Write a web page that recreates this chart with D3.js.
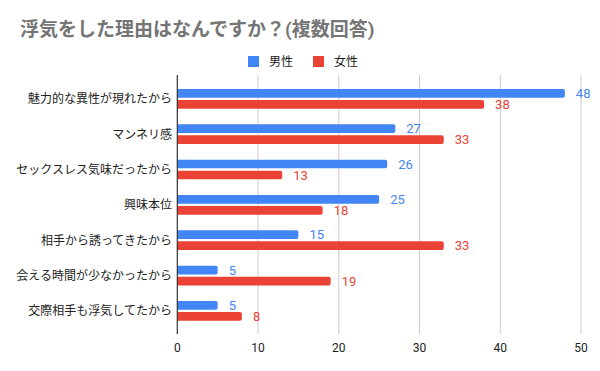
<!DOCTYPE html>
<html>
<head>
<meta charset="utf-8">
<script src="https://cdn.jsdelivr.net/npm/d3@7"></script>
<style>
  body { margin: 0; background: #fff; }
  svg { font-family: Roboto, "Noto Sans CJK JP", sans-serif; }
</style>
</head>
<body>
<svg width="600" height="371"></svg>
<script>
var categories = ["魅力的な異性が現れたから", "マンネリ感", "セックスレス気味だったから", "興味本位",
    "相手から誘ってきたから", "会える時間が少なかったから", "交際相手も浮気してたから"];
var male = [48, 27, 26, 25, 15, 5, 5];
var female = [38, 33, 13, 18, 33, 19, 8];
var seriesNames = ["男性", "女性"];
var ticks = [0, 10, 20, 30, 40, 50];
var colors = ["#4285f4", "#ea4335"];

var svg = d3.select("svg");

// scales
var xscale = d3.scaleLinear().domain([0, 50]).range([177.3, 581]);
var yscale = d3.scaleBand().domain(categories).range([81.3, 328.7]);
var barH = 8.7;

// title
svg.append("text")
    .attr("x", 20)
    .attr("y", 36)
    .attr("font-size", 19)
    .attr("font-weight", "bold")
    .attr("fill", "#757575")
    .text("浮気をした理由はなんですか？(複数回答)");

// legend
var legend = svg.append("g").selectAll("g")
    .data(seriesNames)
    .enter().append("g")
    .attr("transform", function(d, i) { return "translate(" + (248 + i * 65) + ",56)"; });
legend.append("rect")
    .attr("width", 11).attr("height", 11)
    .attr("fill", function(d, i) { return colors[i]; });
legend.append("text")
    .attr("x", 21).attr("y", 10)
    .attr("font-size", 12)
    .attr("fill", "#222")
    .text(function(d) { return d; });

// gridlines
svg.append("g").selectAll("line")
    .data(ticks.slice(1))
    .enter().append("line")
    .attr("x1", function(d) { return xscale(d); })
    .attr("x2", function(d) { return xscale(d); })
    .attr("y1", 75).attr("y2", 334)
    .attr("stroke", "#cccccc");

// x tick labels
svg.append("g").selectAll("text")
    .data(ticks)
    .enter().append("text")
    .attr("x", function(d) { return xscale(d); })
    .attr("y", 352)
    .attr("text-anchor", "middle")
    .attr("font-size", 12)
    .attr("fill", "#222")
    .text(function(d) { return d; });

// category labels
svg.append("g").selectAll("text")
    .data(categories)
    .enter().append("text")
    .attr("x", 172)
    .attr("y", function(d) { return yscale(d) + yscale.bandwidth() / 2; })
    .attr("dy", "0.35em")
    .attr("text-anchor", "end")
    .attr("font-size", 12)
    .attr("fill", "#222")
    .text(function(d) { return d; });

// bars
var series = [male, female];
var offsets = [-10, 1];
series.forEach(function(vals, s) {
    var g = svg.append("g");
    g.selectAll("path")
        .data(vals)
        .enter().append("path")
        .attr("fill", colors[s])
        .attr("d", function(d, i) {
            var x0 = xscale(0), x1 = xscale(d);
            var y0 = yscale(categories[i]) + yscale.bandwidth() / 2 + offsets[s];
            var r = 2;
            return "M" + x0 + "," + y0 + "H" + (x1 - r) +
                "Q" + x1 + "," + y0 + " " + x1 + "," + (y0 + r) +
                "V" + (y0 + barH - r) +
                "Q" + x1 + "," + (y0 + barH) + " " + (x1 - r) + "," + (y0 + barH) +
                "H" + x0 + "Z";
        });
    g.selectAll("text")
        .data(vals)
        .enter().append("text")
        .attr("x", function(d) { return xscale(d) + 11; })
        .attr("y", function(d, i) { return yscale(categories[i]) + yscale.bandwidth() / 2 + offsets[s] + barH / 2; })
        .attr("dy", "0.36em")
        .attr("font-size", 13)
        .attr("fill", colors[s])
        .text(function(d) { return d; });
});

// zero axis line
svg.append("line")
    .attr("x1", xscale(0)).attr("x2", xscale(0))
    .attr("y1", 75).attr("y2", 334)
    .attr("stroke", "#333")
    .attr("stroke-width", 1.2);
</script>
</body>
</html>
